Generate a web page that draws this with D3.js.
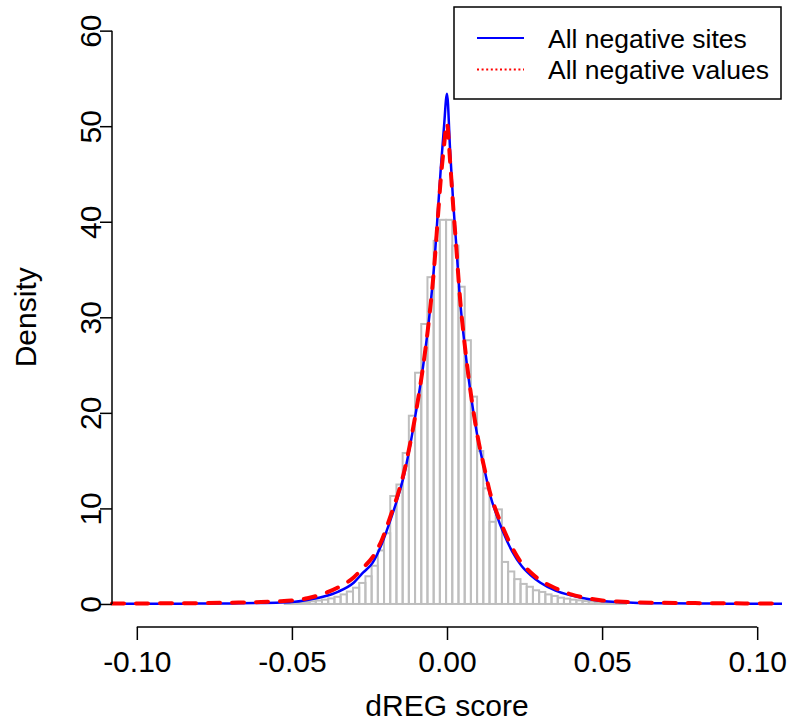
<!DOCTYPE html>
<html>
<head>
<meta charset="utf-8">
<script src="https://cdn.jsdelivr.net/npm/d3@7"></script>
<style>
  body { margin: 0; background: #fff; }
  svg { display: block; }
  text { font-family: "Liberation Sans", Arial, Helvetica, sans-serif; fill: #000; }
</style>
</head>
<body>
<svg id="chart" width="788" height="725"></svg>
<script>
// ---------- data ----------
const xTicks = [-0.10, -0.05, 0.00, 0.05, 0.10];
const xTickLabels = ["-0.10", "-0.05", "0.00", "0.05", "0.10"];
const yTicks = [0, 10, 20, 30, 40, 50, 60];
const yTickLabels = ["0", "10", "20", "30", "40", "50", "60"];

// histogram (density per bin), bins of width 0.002 starting at firstEdge
const binWidth = 0.002;
const firstEdge = -0.0523;
const binDensity = [
  0.06, 0.10, 0.15, 0.22, 0.28, 0.36, 0.45, 0.58, 0.75, 1.0,
  1.3, 1.7, 2.2, 2.9, 4.0, 5.6, 7.4, 11.3, 12.5, 15.8,
  19.7, 24.2, 29.3, 34.2, 38.0, 40.2, 40.2, 37.5, 33.2, 27.6,
  21.7, 16.0, 12.1, 8.6, 9.9, 4.4, 3.4, 2.6, 2.1, 1.8,
  1.43, 1.26, 1.0, 0.84, 0.66, 0.56, 0.45, 0.38, 0.30, 0.25,
  0.20, 0.15, 0.11, 0.08, 0.05
];

// density curves
const curveX = [
  -0.108, -0.09, -0.08, -0.07, -0.06, -0.055, -0.05, -0.045, -0.04, -0.035,
  -0.03, -0.027, -0.024, -0.021, -0.018, -0.016, -0.014, -0.012, -0.010, -0.008,
  -0.006, -0.004, -0.003, -0.002, -0.001, 0, 0.001, 0.002, 0.003, 0.004,
  0.006, 0.008, 0.010, 0.012, 0.014, 0.016, 0.018, 0.021, 0.024, 0.027,
  0.030, 0.035, 0.04, 0.045, 0.05, 0.055, 0.06, 0.07, 0.08, 0.09, 0.108
];
const sitesDensity = [
  0.02, 0.03, 0.04, 0.06, 0.10, 0.14, 0.20, 0.42, 0.75, 1.3,
  2.25, 3.3, 4.3, 6.3, 9.0, 11.0, 13.3, 16.4, 20.1, 24.2,
  29.2, 36.0, 40.8, 45.6, 49.8, 53.4, 47.5, 42.0, 37.5, 32.7,
  26.2, 21.2, 17.2, 14.2, 11.3, 9.3, 7.6, 5.5, 4.0, 3.0,
  2.25, 1.4, 0.9, 0.55, 0.32, 0.2, 0.13, 0.07, 0.05, 0.03, 0.02
];
const valuesDensity = [
  0.05, 0.07, 0.09, 0.13, 0.20, 0.27, 0.36, 0.60, 1.05, 1.75,
  2.8, 3.8, 4.9, 6.7, 9.4, 11.3, 13.6, 16.6, 20.1, 24.2,
  29.2, 35.8, 40.2, 44.5, 47.8, 50.3, 46.3, 41.6, 37.3, 32.8,
  26.3, 21.3, 17.3, 14.3, 11.5, 9.6, 8.0, 5.9, 4.3, 3.3,
  2.5, 1.65, 1.0, 0.62, 0.37, 0.26, 0.18, 0.12, 0.09, 0.07, 0.05
];
const legendLabels = ["All negative sites", "All negative values"];

// ---------- layout ----------
const svg = d3.select("#chart");
const plot = { left: 112, right: 782, top: 7.7, bottom: 626.9 };

const x = d3.scaleLinear().domain([-0.108, 0.108]).range([plot.left, plot.right]);
const y = d3.scaleLinear().domain([-2.4, 62.4]).range([plot.bottom, plot.top]);

// ---------- histogram ----------
const bins = binDensity.map((d, i) => ({
  x0: firstEdge + i * binWidth,
  x1: firstEdge + (i + 1) * binWidth,
  v: d
}));
svg.append("g")
  .selectAll("rect")
  .data(bins)
  .join("rect")
  .attr("x", d => x(d.x0))
  .attr("width", d => x(d.x1) - x(d.x0))
  .attr("y", d => y(d.v))
  .attr("height", d => y(0) - y(d.v))
  .attr("fill", "none")
  .attr("stroke", "#bebebe")
  .attr("stroke-width", 2);

// ---------- curves ----------
const line = d3.line()
  .x(d => x(d[0]))
  .y(d => y(d[1]))
  .curve(d3.curveMonotoneX);

svg.append("path")
  .datum(curveX.map((v, i) => [v, sitesDensity[i]]))
  .attr("d", line)
  .attr("fill", "none")
  .attr("stroke", "#0000ff")
  .attr("stroke-width", 2.5)
  .attr("stroke-linejoin", "round");

svg.append("path")
  .datum(curveX.map((v, i) => [v, valuesDensity[i]]))
  .attr("d", line)
  .attr("fill", "none")
  .attr("stroke", "#ff0000")
  .attr("stroke-width", 4)
  .attr("stroke-dasharray", "12,12")
  .attr("stroke-linecap", "round");

// ---------- axes ----------
const xAxisY = 627;
const gx = svg.append("g")
  .attr("transform", `translate(0,${xAxisY})`)
  .call(d3.axisBottom(x).tickValues(xTicks).tickSize(13).tickSizeOuter(0)
    .tickFormat((d, i) => xTickLabels[i]));
gx.select(".domain").remove();
gx.selectAll(".tick line").attr("stroke", "#000").attr("stroke-width", 1.5);
gx.selectAll(".tick text")
  .attr("y", 45).attr("dy", 0)
  .style("font-size", "30px")
  .style("font-family", '"Liberation Sans", Arial, sans-serif');
gx.append("line")
  .attr("x1", x(xTicks[0])).attr("x2", x(xTicks[xTicks.length - 1]))
  .attr("y1", 0).attr("y2", 0)
  .attr("stroke", "#000").attr("stroke-width", 1.5);

const gy = svg.append("g")
  .attr("transform", `translate(${plot.left},0)`)
  .call(d3.axisLeft(y).tickValues(yTicks).tickSize(12).tickSizeOuter(0)
    .tickFormat((d, i) => yTickLabels[i]));
gy.select(".domain").remove();
gy.selectAll(".tick line").attr("stroke", "#000").attr("stroke-width", 1.5);
gy.selectAll(".tick text")
  .attr("transform", "rotate(-90)")
  .attr("x", 0).attr("y", -11).attr("dy", 0)
  .attr("text-anchor", "middle")
  .style("font-size", "30px")
  .style("font-family", '"Liberation Sans", Arial, sans-serif');
gy.append("line")
  .attr("x1", 0).attr("x2", 0)
  .attr("y1", y(yTicks[0])).attr("y2", y(yTicks[yTicks.length - 1]))
  .attr("stroke", "#000").attr("stroke-width", 1.5);

// axis titles
svg.append("text")
  .attr("x", (plot.left + plot.right) / 2)
  .attr("y", 716)
  .attr("text-anchor", "middle")
  .style("font-size", "30px")
  .text("dREG score");

svg.append("text")
  .attr("transform", `translate(36,${(plot.top + plot.bottom) / 2}) rotate(-90)`)
  .attr("text-anchor", "middle")
  .style("font-size", "30px")
  .text("Density");

// ---------- legend ----------
const lg = { left: 454, right: 781, top: 7, bottom: 99 };
svg.append("rect")
  .attr("x", lg.left).attr("y", lg.top)
  .attr("width", lg.right - lg.left).attr("height", lg.bottom - lg.top)
  .attr("fill", "#fff").attr("stroke", "#000").attr("stroke-width", 1.5);

const legendRows = [
  { label: legendLabels[0], color: "#0000ff", dash: null, cy: 38 },
  { label: legendLabels[1], color: "#ff0000", dash: "2,2.6", cy: 69.5 }
];
legendRows.forEach(r => {
  svg.append("line")
    .attr("x1", 477).attr("x2", 524)
    .attr("y1", r.cy).attr("y2", r.cy)
    .attr("stroke", r.color).attr("stroke-width", 2)
    .attr("stroke-dasharray", r.dash);
  svg.append("text")
    .attr("x", 548).attr("y", r.cy + 9.5)
    .style("font-size", "26.5px")
    .text(r.label);
});
</script>
</body>
</html>
